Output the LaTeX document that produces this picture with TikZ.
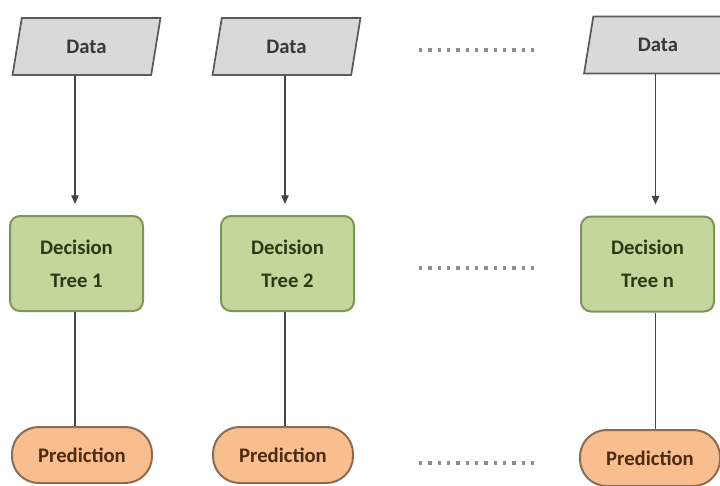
\documentclass[tikz,border=0pt]{standalone}
\usepackage{fontspec}
\setmainfont{Carlito}
\usetikzlibrary{shapes.geometric,arrows.meta,calc}
\definecolor{datafill}{HTML}{D9D9D9}
\definecolor{dataline}{HTML}{5A5A5A}
\definecolor{datatext}{HTML}{383838}
\definecolor{treefill}{HTML}{C3D69B}
\definecolor{treeline}{HTML}{7E9458}
\definecolor{treetext}{HTML}{2C3A14}
\definecolor{predfill}{HTML}{F9BE8E}
\definecolor{predline}{HTML}{8A6C55}
\definecolor{predtext}{HTML}{4E2A10}
\definecolor{conn}{HTML}{454545}
\definecolor{dots}{HTML}{8E8E8E}
\tikzset{
  databox/.style={trapezium, trapezium left angle=78, trapezium right angle=102,
    trapezium stretches=true, minimum width=111pt, minimum height=42.75pt,
    fill=datafill, draw=dataline, line width=1.3pt, inner sep=0pt,
    text=datatext, font=\fontsize{15.5}{18}\selectfont\bfseries},
  treebox/.style={rectangle, rounded corners=7.5pt, minimum width=99.75pt,
    minimum height=71.25pt, fill=treefill, draw=treeline, line width=1.5pt,
    align=center, text=treetext,
    font=\fontsize{15.5}{25}\selectfont\bfseries},
  predbox/.style={rectangle, rounded corners=20pt, minimum width=105pt,
    minimum height=42pt, fill=predfill, draw=predline, line width=1.5pt,
    text=predtext, font=\fontsize{15.5}{18}\selectfont\bfseries},
  arrowline/.style={draw=conn, line width=1.1pt,
    -{Triangle[width=5.5pt,length=6.5pt]}},
  plainline/.style={draw=conn, line width=1.1pt},
  dotline/.style={draw=dots, line width=2.4pt, dash pattern=on 2.4pt off 4.6pt}
}
\begin{document}
\begin{tikzpicture}[x=0.75pt,y=-0.75pt]
\useasboundingbox (0,0) rectangle (720,485);
% data
\node[databox] (d1) at (86.5,46.5) {Data};
\node[databox] (d2) at (286.5,46.5) {Data};
\node[databox] (dn) at (658,45) {Data};
% trees
\node[treebox] (t1) at (76.5,263.5) {Decision\\Tree 1};
\node[treebox] (t2) at (287.5,263.5) {Decision\\Tree 2};
\node[treebox] (tn) at (647.5,264) {Decision\\Tree n};
% predictions
\node[predbox] (p1) at (82,455) {Prediction};
\node[predbox] (p2) at (283,455) {Prediction};
\node[predbox] (pn) at (650,458) {Prediction};
% arrows data -> tree
\coordinate (a1) at ($(t1.north)+(-1.5,-11)$);
\coordinate (a2) at ($(t2.north)+(-2.5,-11)$);
\coordinate (an) at ($(tn.north)+(8,-11)$);
\draw[arrowline] (a1 |- d1.south) -- (a1);
\draw[arrowline] (a2 |- d2.south) -- (a2);
\draw[arrowline] (an |- dn.south) -- (an);
% lines tree -> prediction
\draw[plainline] (a1 |- t1.south) -- (a1 |- p1.north);
\draw[plainline] (a2 |- t2.south) -- (a2 |- p2.north);
\draw[plainline] (an |- tn.south) -- (an |- pn.north);
% ellipses
\draw[dotline] (419,50) -- (540,50);
\draw[dotline] (419,268) -- (540,268);
\draw[dotline] (419,463) -- (540,463);
\end{tikzpicture}
\end{document}
